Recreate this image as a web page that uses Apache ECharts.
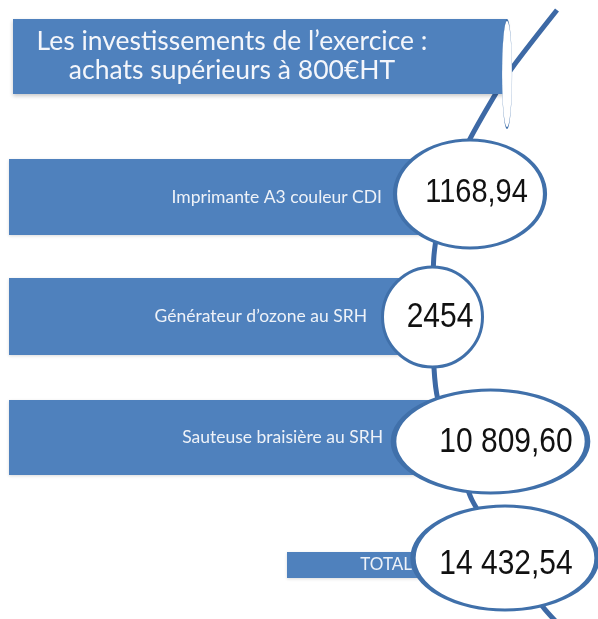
<!DOCTYPE html>
<html><head><meta charset="utf-8">
<script src="https://cdn.jsdelivr.net/npm/echarts@6/dist/echarts.min.js"></script>
<style>html,body{margin:0;padding:0;background:#fff}#c{width:598px;height:619px}</style>
</head><body><div id="c"></div>
<script>
// ---- data ----
const titleLines = ["Les investissements de l’exercice :", "achats supérieurs à 800€HT"];
const categories = ["Imprimante A3 couleur CDI", "Générateur d’ozone au SRH", "Sauteuse braisière au SRH", "TOTAL"];
const values = [1168.94, 2454, 10809.60, 14432.54];
const valueLabels = ["1168,94", "2454", "10 809,60", "14 432,54"];

// ---- layout (pixels, styling only) ----
const BLUE = '#4f81bd';
const EDGE = '#4070aa';
const rows = [
  {barL: 9,   barR: 420, barH: 76, dy: 0,   ecx: 470,   erx: 75, ery: 54,   edy: -3,  tcx: 476.5, tdy: -4, valSize: 29, valScale: 1.15, lblR: 382, lblSize: 17.5},
  {barL: 9,   barR: 400, barH: 77, dy: -0.5, ecx: 432.5, erx: 50, ery: 50,   edy: 0,   tcx: 440,   tdy: 0,  valSize: 30, valScale: 1.18, lblR: 367, lblSize: 17.5},
  {barL: 9,   barR: 430, barH: 75, dy: 0.5, ecx: 490.5, erx: 97, ery: 51.5, edy: 4.5, tcx: 506,   tdy: 5,  valSize: 30, valScale: 1.15, lblR: 383, lblSize: 17.5},
  {barL: 287, barR: 430, barH: 26, dy: 8,   ecx: 505,   erx: 92, ery: 52,   edy: 1,   tcx: 506,   tdy: 7,  valSize: 30, valScale: 1.15, lblR: 412, lblSize: 17}
];

function ellipse(cx, cy, rx, ry, style, z) {
  return {type: 'circle', x: cx, y: cy, scaleX: rx / ry, scaleY: 1, z: z,
          shape: {cx: 0, cy: 0, r: ry}, style: Object.assign({strokeNoScale: true}, style)};
}

const chart = echarts.init(document.getElementById('c'), null, {renderer: 'canvas'});
chart.setOption({
  animation: false,
  backgroundColor: '#fff',
  grid: {left: 0, right: 0, top: 137, height: 480},
  xAxis: {type: 'value', min: 0, max: 598, show: false},
  yAxis: {type: 'category', data: categories, inverse: true, show: false},
  graphic: [
    {type: 'polyline', z: 1, silent: true,
     shape: {points: [[557, 10], [512, 68], [492, 100], [467, 145], [442, 210], [434, 255], [433, 310], [434, 368], [438, 400], [455, 450], [472, 500], [508, 556], [543, 607], [566, 632]], smooth: 0.25},
     style: {stroke: '#3d69a5', lineWidth: 5, fill: null}},
    {type: 'rect', z: 2, shape: {x: 13, y: 19, width: 494, height: 75},
     style: {fill: BLUE, shadowBlur: 4, shadowColor: 'rgba(0,0,0,0.22)', shadowOffsetY: 2}},
    ellipse(507, 74, 5, 54, {fill: '#fff', stroke: EDGE, lineWidth: 2}, 3),
    {type: 'text', z: 4, style: {x: 232, y: 41, text: titleLines[0], fill: '#f4f6fb', font: '26.5px Lato, "Open Sans", sans-serif', align: 'center', verticalAlign: 'middle'}},
    {type: 'text', z: 4, style: {x: 232, y: 70, text: titleLines[1], fill: '#f4f6fb', font: '26.5px Lato, "Open Sans", sans-serif', align: 'center', verticalAlign: 'middle'}}
  ],
  series: [{
    type: 'custom',
    z: 5,
    data: values.map((v, i) => [v, i]),
    encode: {x: 0, y: 1},
    renderItem: function (params, api) {
      const i = params.dataIndex;
      const r = rows[i];
      const cy = api.coord([0, i])[1];
      const x0 = api.coord([r.barL, i])[0];
      const x1 = api.coord([r.barR, i])[0];
      const ecx = api.coord([r.ecx, i])[0];
      const tcx = api.coord([r.tcx, i])[0];
      const by = cy + r.dy;
      const ey = cy + r.edy;
      return {
        type: 'group',
        children: [
          {type: 'rect', shape: {x: x0, y: by - r.barH / 2, width: x1 - x0, height: r.barH},
           style: {fill: BLUE, shadowBlur: 3, shadowColor: 'rgba(0,0,0,0.15)', shadowOffsetY: 1}},
          {type: 'text', style: {x: r.lblR, y: by, text: categories[i], fill: '#eef2f8',
            font: r.lblSize + 'px Lato, "Open Sans", sans-serif', align: 'right', verticalAlign: 'middle'}},
          ellipse(ecx, ey, r.erx, r.ery, {fill: '#fff', stroke: EDGE, lineWidth: 3}),
          {type: 'text', x: tcx, y: cy + r.tdy, scaleY: r.valScale,
           style: {x: 0, y: 0, text: valueLabels[i], fill: '#111',
            font: r.valSize + 'px "Liberation Sans", Arial, sans-serif', align: 'center', verticalAlign: 'middle'}}
        ]
      };
    }
  }]
});
</script>
</body></html>
